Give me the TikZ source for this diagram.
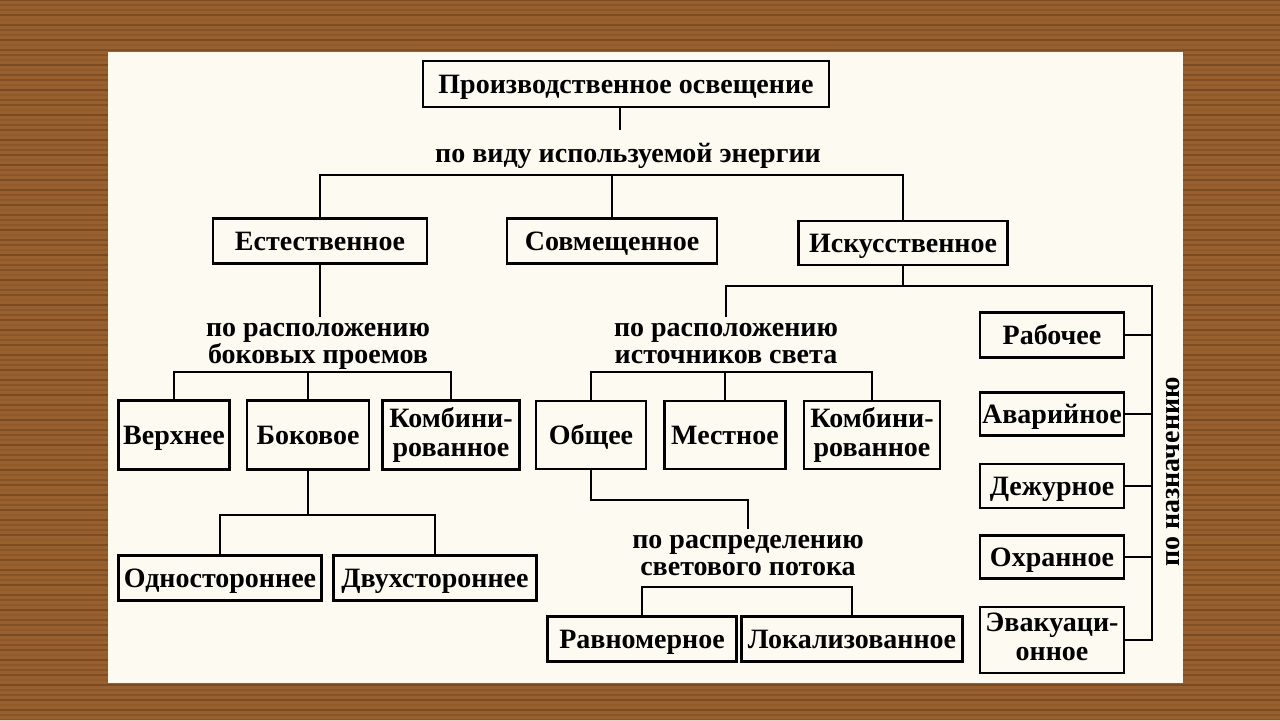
\documentclass[tikz,border=0pt]{standalone}
\usepackage{fontspec}
\setmainfont{Liberation Serif}
\definecolor{wood}{RGB}{152,96,46}
\definecolor{wooddark}{RGB}{82,46,16}
\definecolor{paper}{RGB}{253,251,241}
\newcommand\boxstrut{\rule[-0.25em]{0pt}{1.16em}}
\tikzset{
  box/.style={draw=black, line width=1.4pt, inner sep=1pt, align=center,
    font=\bfseries\fontsize{14}{14.5}\selectfont,
    execute at begin node=\boxstrut, execute at end node=\boxstrut},
  lbl/.style={inner sep=3pt, align=center, font=\bfseries\fontsize{14}{13.8}\selectfont,
    execute at begin node=\boxstrut, execute at end node=\boxstrut},
  link/.style={draw=black, line width=1.4pt},
}
\begin{document}
\begin{tikzpicture}[x=0.5pt, y=-0.5pt]
\useasboundingbox (0,0) rectangle (1280,720);
\fill[wood] (0,0) rectangle (1280,720);
\foreach \y [count=\i] in {0,5,...,720}{
  \pgfmathsetmacro\op{0.08+0.35*abs(sin(\i*71))^2}
  \draw[wooddark, opacity=\op, line width=1.1pt] (0,\y) -- (1280,\y);
}
\fill[paper] (108,52) rectangle (1183,683);

\node[box, minimum width=203pt, minimum height=23pt] (top) at (626,84) {Производственное освещение};
\node[lbl] (energy) at (628,153) {по виду используемой энергии};

\node[box, minimum width=107pt, minimum height=22.5pt] (nat) at (320,241) {Естественное};
\node[box, minimum width=105pt, minimum height=22.5pt] (mixed) at (612,241) {Совмещенное};
\node[box, minimum width=104.5pt, minimum height=22pt] (art) at (903,243) {Искусственное};

\node[lbl] (sidewin) at (318,347) {по расположению\\боковых проемов};
\node[box, minimum width=55.5pt, minimum height=34.5pt] (upper) at (174,435) {Верхнее};
\node[box, minimum width=61pt, minimum height=34.5pt] (lateral) at (308,435) {Боковое};
\node[box, minimum width=68.5pt, minimum height=34.5pt] (combwin) at (451,435) {Комбини-\\рованное};
\node[box, minimum width=101.5pt, minimum height=22.5pt] (onesided) at (220,578) {Одностороннее};
\node[box, minimum width=101.5pt, minimum height=22.5pt] (twosided) at (435,578) {Двухстороннее};

\node[lbl] (srcpos) at (726,347) {по расположению\\источников света};
\node[box, minimum width=55pt, minimum height=34pt] (general) at (591,435) {Общее};
\node[box, minimum width=60.5pt, minimum height=34pt] (local) at (725,435) {Местное};
\node[box, minimum width=68pt, minimum height=34pt] (combsrc) at (872,435) {Комбини-\\рованное};
\node[lbl] (fluxlbl) at (748,559) {по распределению\\светового потока};
\node[box, minimum width=94.5pt, minimum height=22.5pt] (uniform) at (642,639) {Равномерное};
\node[box, minimum width=110.5pt, minimum height=22.5pt] (localized) at (852,639) {Локализованное};

\node[box, minimum width=72pt, minimum height=22.5pt] (working) at (1052,335) {Рабочее};
\node[box, minimum width=72pt, minimum height=21.5pt] (emergency) at (1052,414) {Аварийное};
\node[box, minimum width=72pt, minimum height=22pt] (standby) at (1052,486) {Дежурное};
\node[box, minimum width=72pt, minimum height=21.5pt] (security) at (1052,557) {Охранное};
\node[box, minimum width=72pt, minimum height=33pt] (evacuation) at (1052,640) {Эвакуаци-\\онное};
\node[lbl, rotate=90] (purpose) at (1170,472) {по назначению};

\coordinate (ebus) at (620,175);
\coordinate (rowbus) at (0,372);
\coordinate (lbus) at (0,515);
\coordinate (abus) at (1152,286);
\coordinate (gbus) at (0,500);
\coordinate (fbus) at (0,587);

\draw[link] (top.south -| ebus) -- (ebus |- energy.north);
\draw[link] (nat.north) |- (art.north |- ebus) -- (art.north);
\draw[link] (mixed.north) -- (mixed.north |- ebus);

\draw[link] (nat.south) -- (nat.south |- sidewin.north);
\draw[link] (upper.north) |- (combwin.north |- rowbus) -- (combwin.north);
\draw[link] (lateral.north) -- (lateral.north |- rowbus);
\draw[link] (lateral.south) -- (lateral.south |- lbus);
\draw[link] (onesided.north) |- (twosided.north |- lbus) -- (twosided.north);

\draw[link] (art.south) -- (art.south |- abus);
\draw[link] (srcpos.north) |- (abus) -- (abus |- evacuation.east) -- (evacuation.east);
\foreach \n in {working,emergency,standby,security}
  \draw[link] (\n.east) -- (\n.east -| abus);

\draw[link] (general.north) |- (combsrc.north |- rowbus) -- (combsrc.north);
\draw[link] (local.north) -- (local.north |- rowbus);
\draw[link] (general.south) |- (fluxlbl.north |- gbus) -- (fluxlbl.north);
\draw[link] (uniform.north) |- (localized.north |- fbus) -- (localized.north);
\end{tikzpicture}
\end{document}
